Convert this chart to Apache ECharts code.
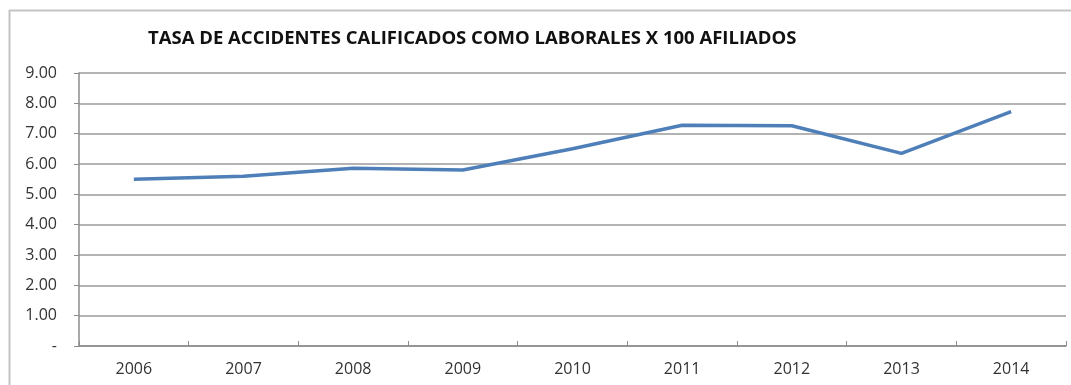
<!DOCTYPE html>
<html>
<head>
<meta charset="utf-8">
<script src="https://cdn.jsdelivr.net/npm/echarts@6/dist/echarts.min.js"></script>
<style>
  html, body { margin: 0; padding: 0; background: #fff; overflow: hidden; }
  #chart { width: 1071px; height: 385px; }
</style>
</head>
<body>
<div id="chart"></div>
<script>
var years = ['2006', '2007', '2008', '2009', '2010', '2011', '2012', '2013', '2014'];
var tasa = [5.50, 5.60, 5.86, 5.80, 6.50, 7.28, 7.26, 6.35, 7.73];

var chart = echarts.init(document.getElementById('chart'));

var option = {
  backgroundColor: '#ffffff',
  animation: false,
  graphic: [{ // marco: borde superior e izquierdo
    type: 'line',
    shape: { x1: 9, y1: 10.5, x2: 1071, y2: 10.5 },
    style: { stroke: '#c4c4c4', lineWidth: 2 }
  }, {
    type: 'line',
    shape: { x1: 9.5, y1: 10, x2: 9.5, y2: 385 },
    style: { stroke: '#c4c4c4', lineWidth: 2 }
  }],
  title: {
    text: 'TASA DE ACCIDENTES CALIFICADOS COMO LABORALES X 100 AFILIADOS',
    left: 143,
    top: 24,
    textStyle: {
      fontFamily: 'Open Sans',
      fontWeight: 'bold',
      fontSize: 18.5,
      color: '#111'
    }
  },
  grid: { left: 79, right: 5, top: 73, bottom: 39 },
  xAxis: {
    type: 'category',
    data: years,
    boundaryGap: true,
    axisLine: { lineStyle: { color: '#8c8c8c', width: 1.5 } },
    axisTick: { show: true, length: 5, inside: true, lineStyle: { color: '#8c8c8c' } },
    axisLabel: { color: '#333', fontSize: 16, fontFamily: 'Open Sans', margin: 15 }
  },
  yAxis: {
    type: 'value',
    min: 0,
    max: 9,
    interval: 1,
    axisLine: { show: true, lineStyle: { color: '#8c8c8c', width: 1.5 } },
    axisTick: { show: true, length: 5, lineStyle: { color: '#8c8c8c' } },
    axisLabel: {
      color: '#333',
      fontSize: 16,
      fontFamily: 'Open Sans',
      margin: 22,
      formatter: function (v) { return v === 0 ? '-' : v.toFixed(2); }
    },
    splitLine: { lineStyle: { color: '#9a9a9a', width: 1.5 } }
  },
  series: [{
    type: 'line',
    data: tasa,
    symbol: 'none',
    lineStyle: { color: '#4f7fb8', width: 3.5 }
  }]
};

chart.setOption(option);
</script>
</body>
</html>
